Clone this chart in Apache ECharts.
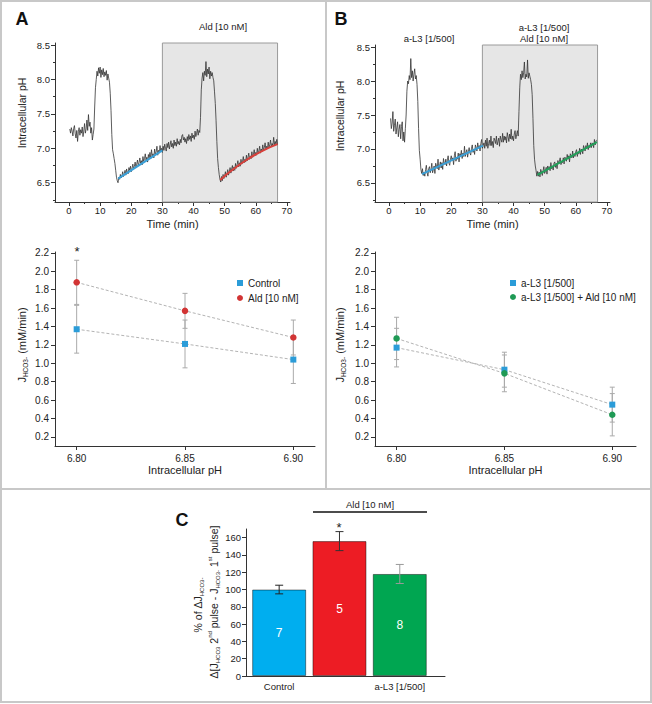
<!DOCTYPE html>
<html><head><meta charset="utf-8">
<script src="https://cdn.jsdelivr.net/npm/echarts@6/dist/echarts.min.js"></script>
<style>html,body{margin:0;padding:0;background:#fff}#main{width:652px;height:704px}</style>
</head><body><div id="main"></div>
<script>
// ---------- DATA ----------
const traceA = [[0.25,7.28],[0.5,7.22],[0.75,7.30],[1.0,7.25],[1.25,7.18],[1.5,7.29],[1.75,7.33],[2.0,7.21],[2.25,7.15],[2.5,7.26],[2.75,7.10],[3.0,7.24],[3.25,7.30],[3.5,7.19],[3.75,7.27],[4.0,7.22],[4.25,7.31],[4.5,7.17],[4.75,7.25],[5.0,7.36],[5.25,7.22],[5.5,7.28],[5.75,7.41],[6.0,7.26],[6.25,7.49],[6.5,7.32],[6.75,7.38],[7.0,7.22],[7.25,7.30],[7.5,7.12],[7.75,7.20],[8.0,7.28],[8.25,7.60],[8.5,7.88],[8.75,8.00],[9.0,8.12],[9.25,8.05],[9.5,8.17],[9.75,8.09],[10.0,8.18],[10.25,8.03],[10.5,8.14],[10.75,8.07],[11.0,8.16],[11.25,8.04],[11.5,8.11],[11.75,8.06],[12.0,8.13],[12.25,7.99],[12.5,8.08],[12.75,8.02],[13.0,7.96],[13.25,7.80],[13.5,7.55],[13.75,7.20],[14.0,6.98],[14.25,6.92],[14.5,6.85],[14.75,6.78],[15.0,6.68],[15.25,6.58],[15.5,6.53],[15.75,6.50],[16.0,6.58],[16.25,6.55],[16.5,6.62],[16.75,6.57],[17.0,6.60],[17.25,6.66],[17.5,6.59],[17.75,6.63],[18.0,6.68],[18.25,6.61],[18.5,6.70],[18.75,6.65],[19.0,6.63],[19.25,6.72],[19.5,6.68],[19.75,6.74],[20.0,6.66],[20.25,6.71],[20.5,6.77],[20.75,6.70],[21.0,6.74],[21.25,6.80],[21.5,6.72],[21.75,6.77],[22.0,6.83],[22.25,6.75],[22.5,6.79],[22.75,6.86],[23.0,6.78],[23.25,6.82],[23.5,6.76],[23.75,6.88],[24.0,6.81],[24.25,6.85],[24.5,6.92],[24.75,6.83],[25.0,6.87],[25.25,6.80],[25.5,6.91],[25.75,6.86],[26.0,6.94],[26.25,6.85],[26.5,6.98],[26.75,6.89],[27.0,6.92],[27.25,6.86],[27.5,6.99],[27.75,6.91],[28.0,6.95],[28.25,7.03],[28.5,6.90],[28.75,6.97],[29.0,6.93],[29.25,7.04],[29.5,6.95],[29.75,7.00],[30.0,6.94],[30.25,7.03],[30.5,6.97],[30.75,7.06],[31.0,7.00],[31.25,6.96],[31.5,7.07],[31.75,7.01],[32.0,7.09],[32.25,6.99],[32.5,7.05],[32.75,7.11],[33.0,7.02],[33.25,7.07],[33.5,7.00],[33.75,7.12],[34.0,7.04],[34.25,7.09],[34.5,7.03],[34.75,7.14],[35.0,7.06],[35.25,7.10],[35.5,7.05],[35.75,7.13],[36.0,7.08],[36.25,7.18],[36.5,7.20],[36.75,7.12],[37.0,7.16],[37.25,7.09],[37.5,7.14],[37.75,7.07],[38.0,7.17],[38.25,7.11],[38.5,7.20],[38.75,7.13],[39.0,7.18],[39.25,7.10],[39.5,7.22],[39.75,7.15],[40.0,7.19],[40.25,7.13],[40.5,7.25],[40.75,7.17],[41.0,7.22],[41.25,7.28],[41.5,7.19],[41.75,7.26],[42.0,7.23],[42.25,7.45],[42.5,7.85],[42.75,8.02],[43.0,8.10],[43.25,7.98],[43.5,8.12],[43.75,8.06],[44.0,8.26],[44.25,8.04],[44.5,8.15],[44.75,8.08],[45.0,8.18],[45.25,8.01],[45.5,8.12],[45.75,8.05],[46.0,8.10],[46.25,8.03],[46.5,7.98],[46.75,7.82],[47.0,7.65],[47.25,7.40],[47.5,7.10],[47.75,6.85],[48.0,6.72],[48.25,6.62],[48.5,6.55],[48.75,6.51],[49.0,6.59],[49.25,6.53],[49.5,6.62],[49.75,6.56],[50.0,6.60],[50.25,6.66],[50.5,6.58],[50.75,6.63],[51.0,6.69],[51.25,6.61],[51.5,6.66],[51.75,6.72],[52.0,6.64],[52.25,6.70],[52.5,6.75],[52.75,6.67],[53.0,6.73],[53.25,6.68],[53.5,6.78],[53.75,6.71],[54.0,6.76],[54.25,6.82],[54.5,6.73],[54.75,6.79],[55.0,6.74],[55.25,6.84],[55.5,6.77],[55.75,6.81],[56.0,6.88],[56.25,6.79],[56.5,6.84],[56.75,6.80],[57.0,6.90],[57.25,6.82],[57.5,6.87],[57.75,6.93],[58.0,6.84],[58.25,6.89],[58.5,6.85],[58.75,6.95],[59.0,6.87],[59.25,6.91],[59.5,6.98],[59.75,6.89],[60.0,6.94],[60.25,6.90],[60.5,7.00],[60.75,6.92],[61.0,6.96],[61.25,7.03],[61.5,6.93],[61.75,6.99],[62.0,6.95],[62.25,7.05],[62.5,6.97],[62.75,7.01],[63.0,7.08],[63.25,6.98],[63.5,7.03],[63.75,6.99],[64.0,7.09],[64.25,7.01],[64.5,7.05],[64.75,7.12],[65.0,7.02],[65.25,7.07],[65.5,7.04],[65.75,7.16],[66.0,7.05],[66.25,7.10],[66.5,7.06],[66.75,7.13],[67.0,7.05]];
const fitA1 = [[15.8,6.56],[30.0,6.97]];
const fitA2 = [[48.6,6.54],[52,6.67],[57,6.83],[62,6.96],[67,7.06]];

const traceB = [[0.5,7.45],[0.75,7.30],[1.0,7.38],[1.25,7.55],[1.5,7.26],[1.75,7.35],[2.0,7.44],[2.25,7.22],[2.5,7.31],[2.75,7.40],[3.0,7.18],[3.25,7.29],[3.5,7.36],[3.75,7.15],[4.0,7.33],[4.25,7.40],[4.5,7.12],[4.75,7.25],[5.0,7.10],[5.25,7.30],[5.5,7.50],[5.75,7.85],[6.0,8.00],[6.25,7.96],[6.5,8.08],[6.75,8.02],[7.0,8.33],[7.25,8.05],[7.5,8.15],[7.75,8.00],[8.0,8.10],[8.25,8.18],[8.5,8.03],[8.75,8.08],[9.0,7.95],[9.25,7.70],[9.5,7.30],[9.75,6.98],[10.0,6.85],[10.25,6.70],[10.5,6.64],[10.75,6.71],[11.0,6.61],[11.25,6.66],[11.5,6.60],[11.75,6.70],[12.0,6.76],[12.25,6.65],[12.5,6.60],[12.75,6.71],[13.0,6.74],[13.25,6.65],[13.5,6.70],[13.75,6.79],[14.0,6.65],[14.25,6.70],[14.5,6.75],[14.75,6.64],[15.0,6.79],[15.25,6.75],[15.5,6.71],[15.75,6.85],[16.0,6.69],[16.25,6.75],[16.5,6.81],[16.75,6.72],[17.0,6.80],[17.25,6.70],[17.5,6.86],[17.75,6.79],[18.0,6.77],[18.25,6.85],[18.5,6.75],[18.75,6.84],[19.0,6.90],[19.25,6.79],[19.5,6.76],[19.75,6.85],[20.0,6.90],[20.25,6.83],[20.5,6.87],[20.75,6.77],[21.0,6.90],[21.25,6.96],[21.5,6.82],[21.75,6.88],[22.0,6.85],[22.25,6.94],[22.5,6.81],[22.75,6.93],[23.0,6.90],[23.25,6.98],[23.5,6.86],[23.75,6.94],[24.0,6.89],[24.25,7.04],[24.5,6.89],[24.75,6.95],[25.0,6.99],[25.25,6.88],[25.5,6.96],[25.75,7.02],[26.0,6.94],[26.25,6.91],[26.5,7.01],[26.75,7.06],[27.0,6.95],[27.25,7.00],[27.5,6.92],[27.75,7.06],[28.0,7.02],[28.25,6.97],[28.5,7.09],[28.75,7.01],[29.0,7.05],[29.25,6.97],[29.5,7.08],[29.75,7.14],[30.0,7.01],[30.25,7.05],[30.5,7.09],[30.75,7.01],[31.0,7.13],[31.25,7.04],[31.5,7.16],[31.75,7.01],[32.0,7.08],[32.25,7.13],[32.5,7.05],[32.75,7.19],[33.0,7.05],[33.25,7.11],[33.5,7.02],[33.75,7.16],[34.0,7.13],[34.25,7.08],[34.5,7.19],[34.75,7.06],[35.0,7.11],[35.25,7.16],[35.5,7.04],[35.75,7.19],[36.0,7.14],[36.25,7.10],[36.5,7.23],[36.75,7.10],[37.0,7.19],[37.25,7.13],[37.5,7.18],[37.75,7.09],[38.0,7.24],[38.25,7.18],[38.5,7.11],[38.75,7.22],[39.0,7.15],[39.25,7.29],[39.5,7.14],[39.75,7.19],[40.0,7.12],[40.25,7.22],[40.5,7.27],[40.75,7.15],[41.0,7.21],[41.25,7.27],[41.5,7.19],[41.75,7.55],[42.0,7.90],[42.25,8.10],[42.5,8.02],[42.75,8.15],[43.0,8.05],[43.25,8.12],[43.5,8.28],[43.75,8.03],[44.0,8.10],[44.25,8.06],[44.5,8.31],[44.75,8.04],[45.0,8.12],[45.25,8.07],[45.5,8.02],[45.75,7.95],[46.0,7.80],[46.25,7.45],[46.5,7.05],[46.75,6.85],[47.0,6.75],[47.25,6.68],[47.5,6.60],[47.75,6.67],[48.0,6.60],[48.25,6.66],[48.5,6.59],[48.75,6.70],[49.0,6.66],[49.25,6.61],[49.5,6.68],[49.75,6.74],[50.0,6.64],[50.25,6.67],[50.5,6.73],[50.75,6.63],[51.0,6.75],[51.25,6.70],[51.5,6.74],[51.75,6.68],[52.0,6.80],[52.25,6.71],[52.5,6.75],[52.75,6.69],[53.0,6.79],[53.25,6.81],[53.5,6.73],[53.75,6.79],[54.0,6.71],[54.25,6.83],[54.5,6.78],[54.75,6.82],[55.0,6.87],[55.25,6.77],[55.5,6.81],[55.75,6.80],[56.0,6.87],[56.25,6.78],[56.5,6.88],[56.75,6.86],[57.0,6.82],[57.25,6.92],[57.5,6.85],[57.75,6.90],[58.0,6.81],[58.25,6.93],[58.5,6.90],[58.75,6.87],[59.0,6.97],[59.25,6.87],[59.5,6.93],[59.75,6.89],[60.0,6.96],[60.25,6.99],[60.5,6.89],[60.75,6.95],[61.0,6.93],[61.25,7.01],[61.5,6.92],[61.75,7.00],[62.0,6.98],[62.25,6.93],[62.5,7.05],[62.75,7.01],[63.0,6.97],[63.25,7.05],[63.5,7.00],[63.75,7.09],[64.0,6.99],[64.25,7.05],[64.5,7.02],[64.75,7.09],[65.0,7.02],[65.25,7.09],[65.5,7.07],[65.75,7.02],[66.0,7.14],[66.25,7.06],[66.5,7.12],[66.75,7.13]];
const fitB1 = [[10.6,6.63],[30.2,7.05]];
const fitB2 = [[47.7,6.62],[66.8,7.10]];

const aldPeriod = [30, 67];
const timeTicks = [0, 10, 20, 30, 40, 50, 60, 70];
const timeMinorTicks = [5, 15, 25, 35, 45, 55, 65];
const phTicks = [6.5, 7.0, 7.5, 8.0, 8.5];
const phMinorTicks = [6.25, 6.75, 7.25, 7.75, 8.25];

const phX = [6.80, 6.85, 6.90];
const controlJ = [1.37, 1.21, 1.04];
const controlErr = [0.26, 0.26, 0.26];
const aldJ = [1.88, 1.57, 1.28];
const aldErr = [0.24, 0.19, 0.19];
const al3J = [1.17, 0.93, 0.55];
const al3Err = [0.21, 0.19, 0.19];
const al3AldJ = [1.27, 0.89, 0.44];
const al3AldErr = [0.23, 0.20, 0.23];
const jTicks = [0.2, 0.4, 0.6, 0.8, 1.0, 1.2, 1.4, 1.6, 1.8, 2.0, 2.2];

const barLabels = ['Control', '', 'a-L3 [1/500]'];
const barValues = [100, 156, 118];
const barErr = [5, 11, 11];
const barN = ['7', '5', '8'];
const barTicks = [0, 20, 40, 60, 80, 100, 120, 140, 160];

// ---------- STYLE ----------
const FONT = "'Liberation Sans', Arial, sans-serif";
const TXT = '#222';
const AX = '#333';
const barColors = ['#00aeef', '#ed1c24', '#00a651'];
const barErrColors = ['#222', '#333', '#9a9a9a'];

function mainX(grid, min, max, ticks, fmt, margin, fs, name, gap) {
  return {gridIndex: grid, type: 'value', min, max,
    axisLine: {show: true, onZero: false, lineStyle: {color: AX, width: 1}},
    axisTick: {show: true, customValues: ticks, length: 4, lineStyle: {color: AX}},
    axisLabel: {show: true, customValues: ticks, formatter: fmt, margin, fontSize: fs, color: TXT, fontFamily: FONT},
    splitLine: {show: false},
    name, nameLocation: 'middle', nameGap: gap, nameMoveOverlap: false,
    nameTextStyle: {fontSize: 11, color: TXT, fontFamily: FONT}};
}
function mainY(grid, min, max, ticks, fmt, margin, fs) {
  return {gridIndex: grid, type: 'value', min, max, position: 'left',
    axisLine: {show: true, onZero: false, lineStyle: {color: AX, width: 1}},
    axisTick: {show: true, customValues: ticks, length: 4, lineStyle: {color: AX}},
    axisLabel: {show: true, customValues: ticks, formatter: fmt, margin, fontSize: fs, color: TXT, fontFamily: FONT},
    splitLine: {show: false}};
}
function minorAxis(grid, min, max, ticks, isY) {
  const a = {gridIndex: grid, type: 'value', min, max,
    axisLine: {show: false, onZero: false},
    axisTick: {show: true, customValues: ticks, length: 2, lineStyle: {color: AX}},
    axisLabel: {show: false}, splitLine: {show: false}};
  a.position = isY ? 'left' : 'bottom';
  return a;
}
function errRender(cap) {
  return function (params, api) {
    const x = api.value(0), lo = api.value(1), hi = api.value(2);
    const a = api.coord([x, lo]), b = api.coord([x, hi]);
    const st = {stroke: api.visual('color'), lineWidth: 1, fill: null};
    return {type: 'group', children: [
      {type: 'line', shape: {x1: a[0], y1: a[1], x2: b[0], y2: b[1]}, style: st},
      {type: 'line', shape: {x1: a[0] - cap, y1: a[1], x2: a[0] + cap, y2: a[1]}, style: st},
      {type: 'line', shape: {x1: b[0] - cap, y1: b[1], x2: b[0] + cap, y2: b[1]}, style: st}
    ]};
  };
}
function errData(xs, ys, es) { return xs.map((x, i) => [x, ys[i] - es[i], ys[i] + es[i]]); }
function pairs(xs, ys) { return xs.map((x, i) => [x, ys[i]]); }

const f1 = v => Number(v).toFixed(1);
const f2 = v => Number(v).toFixed(2);
const f0 = v => String(Math.round(v));

const chart = echarts.init(document.getElementById('main'), null, {renderer: 'svg', width: 652, height: 704});

const shade = {silent: true, itemStyle: {color: '#e6e6e6', borderColor: '#9a9a9a', borderWidth: 1},
  data: [[{xAxis: aldPeriod[0]}, {xAxis: aldPeriod[1]}]]};

function traceSeries(data, xi, yi, withShade) {
  const s = {type: 'line', xAxisIndex: xi, yAxisIndex: yi, data, showSymbol: false, symbol: 'none',
    lineStyle: {color: '#333', width: 0.8}, silent: true, z: 3};
  if (withShade) s.markArea = shade;
  return s;
}
function fitSeries(data, xi, yi, color, smooth) {
  return {type: 'line', xAxisIndex: xi, yAxisIndex: yi, data, showSymbol: false, symbol: 'none', smooth: !!smooth,
    lineStyle: {color, width: 2}, silent: true, z: 4};
}
function jSeries(name, xs, ys, xi, yi, color, symbol) {
  return {type: 'line', name, xAxisIndex: xi, yAxisIndex: yi, data: pairs(xs, ys), color,
    symbol, symbolSize: symbol === 'circle' ? 6.5 : 6, showSymbol: true,
    itemStyle: {color}, lineStyle: {color: '#a0a0a0', width: 0.8, type: [3, 2]}, z: 5};
}
function jErr(xs, ys, es, xi, yi) {
  return {type: 'custom', xAxisIndex: xi, yAxisIndex: yi, data: errData(xs, ys, es),
    renderItem: errRender(2.5), itemStyle: {color: '#aaaaaa'}, encode: {x: 0, y: [1, 2]}, z: 2, silent: true};
}

const rotText = (x, y, text, rich, fs) => ({type: 'text', x, y, rotation: Math.PI / 2,
  style: {text, rich, fontSize: fs || 11, fontFamily: FONT, fill: TXT, align: 'center', verticalAlign: 'middle',
    textAlign: 'center', textVerticalAlign: 'middle'}});
const txt = (x, y, text, fs, extra) => ({type: 'text', x, y,
  style: Object.assign({text, fontSize: fs, fontFamily: FONT, fill: TXT, align: 'center', verticalAlign: 'middle',
    textAlign: 'center', textVerticalAlign: 'middle'}, extra || {})});

const jRich = {
  j: {fontSize: 11, fontFamily: FONT, lineHeight: 14},
  s: {fontSize: 6.5, fontFamily: FONT, verticalAlign: 'bottom', lineHeight: 8},
  p: {fontSize: 6, fontFamily: FONT, verticalAlign: 'top', lineHeight: 8},
  m: {fontSize: 10.5, fontFamily: FONT, lineHeight: 14},
  s2: {fontSize: 6, fontFamily: FONT, verticalAlign: 'bottom', lineHeight: 8}
};

const option = {
  animation: false,
  backgroundColor: '#fff',
  grid: [
    {left: 55, top: 43, width: 235, height: 159, containLabel: false, outerBoundsMode: 'none'},
    {left: 375, top: 45, width: 235, height: 157, containLabel: false, outerBoundsMode: 'none'},
    {left: 55, top: 252, width: 260, height: 194, containLabel: false, outerBoundsMode: 'none'},
    {left: 375, top: 252, width: 261, height: 194, containLabel: false, outerBoundsMode: 'none'},
    {left: 246, top: 529, width: 199, height: 147, containLabel: false, outerBoundsMode: 'none'}
  ],
  xAxis: [
    mainX(0, -4.5, 71, timeTicks, f0, 3, 9.5, 'Time (min)', 16),
    minorAxis(0, -4.5, 71, timeMinorTicks, false),
    mainX(1, -4.5, 71, timeTicks, f0, 3, 9.5, 'Time (min)', 16),
    minorAxis(1, -4.5, 71, timeMinorTicks, false),
    mainX(2, 6.79, 6.91, phX, f2, 7, 10, 'Intracellular pH', 18),
    mainX(3, 6.79, 6.911, phX, f2, 7, 10, 'Intracellular pH', 18),
    Object.assign(mainX(4, 0.45, 3.75, barLabels.map((n, i) => n ? i + 1 : null).filter(v => v !== null),
      v => barLabels[Math.round(v) - 1], 5, 9.5, '', 0), {axisTick: {show: false}})
  ],
  yAxis: [
    mainY(0, 6.22, 8.53, phTicks, f1, 5, 9.5),
    minorAxis(0, 6.22, 8.53, phMinorTicks, true),
    mainY(1, 6.22, 8.53, phTicks, f1, 5, 9.5),
    minorAxis(1, 6.22, 8.53, phMinorTicks, true),
    mainY(2, 0.1, 2.21, jTicks, f1, 6, 10),
    mainY(3, 0.1, 2.21, jTicks, f1, 6, 10),
    mainY(4, 0, 170, barTicks, f0, 5, 9.5)
  ],
  legend: [
    {left: 237, top: 278, orient: 'vertical', padding: 0, itemGap: 5, itemWidth: 6, itemHeight: 6,
      data: [{name: 'Control', icon: 'rect'}, {name: 'Ald [10 nM]', icon: 'circle'}],
      textStyle: {fontSize: 10, color: TXT, fontFamily: FONT}},
    {left: 510, top: 278, orient: 'vertical', padding: 0, itemGap: 4, itemWidth: 6, itemHeight: 6,
      data: [{name: 'a-L3 [1/500]', icon: 'rect'}, {name: 'a-L3 [1/500] + Ald [10 nM]', icon: 'circle'}],
      textStyle: {fontSize: 10, color: TXT, fontFamily: FONT}}
  ],
  series: [
    traceSeries(traceA, 0, 0, true),
    fitSeries(fitA1, 0, 0, '#3a9fd6'),
    fitSeries(fitA2, 0, 0, '#d8413c', true),
    traceSeries(traceB, 2, 2, true),
    fitSeries(fitB1, 2, 2, '#3a9fd6'),
    fitSeries(fitB2, 2, 2, '#22a05a'),

    jErr(phX, controlJ, controlErr, 4, 4),
    jErr(phX, aldJ, aldErr, 4, 4),
    jSeries('Control', phX, controlJ, 4, 4, '#2b9cd8', 'rect'),
    jSeries('Ald [10 nM]', phX, aldJ, 4, 4, '#d23434', 'circle'),

    jErr(phX, al3J, al3Err, 5, 5),
    jErr(phX, al3AldJ, al3AldErr, 5, 5),
    jSeries('a-L3 [1/500]', phX, al3J, 5, 5, '#2b9cd8', 'rect'),
    jSeries('a-L3 [1/500] + Ald [10 nM]', phX, al3AldJ, 5, 5, '#1f9a55', 'circle'),

    {type: 'bar', xAxisIndex: 6, yAxisIndex: 6, barWidth: 54,
      data: barValues.map((v, i) => ({value: [i + 1, v], itemStyle: {color: barColors[i]}})),
      itemStyle: {borderColor: 'rgba(0,0,0,0.45)', borderWidth: 1},
      label: {show: true, position: 'inside', formatter: p => barN[p.dataIndex], color: '#fff', fontSize: 12, fontFamily: FONT},
      z: 2},
    {type: 'custom', xAxisIndex: 6, yAxisIndex: 6,
      data: barValues.map((v, i) => ({value: [i + 1, v - barErr[i], v + barErr[i]], itemStyle: {color: barErrColors[i]}})),
      renderItem: errRender(4), encode: {x: 0, y: [1, 2]}, z: 5, silent: true}
  ],
  graphic: [
    {type: 'rect', shape: {x: 1, y: 1, width: 650, height: 701}, style: {fill: 'none', stroke: '#c8c8c8', lineWidth: 2}, silent: true},
    {type: 'line', shape: {x1: 326, y1: 0, x2: 326, y2: 489}, style: {stroke: '#c8c8c8', lineWidth: 2}, silent: true},
    {type: 'line', shape: {x1: 0, y1: 489, x2: 652, y2: 489}, style: {stroke: '#c8c8c8', lineWidth: 2}, silent: true},
    txt(22, 19, 'A', 18, {fontWeight: 'bold', fill: '#111'}),
    txt(341, 19, 'B', 18, {fontWeight: 'bold', fill: '#111'}),
    txt(182, 520, 'C', 18, {fontWeight: 'bold', fill: '#111'}),
    txt(223, 26, 'Ald [10 nM]', 9.5),
    txt(429, 38, 'a-L3 [1/500]', 9.5),
    txt(544, 27, 'a-L3 [1/500]', 9.5),
    txt(544, 38, 'Ald [10 nM]', 9.5),
    rotText(22, 113, 'Intracellular pH', null, 10.5),
    rotText(340, 116, 'Intracellular pH', null, 10.5),
    rotText(22, 345, '{j|J}{s|HCO3-}{j| (mM/min)}', jRich, 11),
    rotText(340, 345, '{j|J}{s|HCO3-}{j| (mM/min)}', jRich, 11),
    txt(77, 251, '*', 13),
    txt(339, 527, '*', 13),
    txt(370, 504, 'Ald [10 nM]', 9.5),
    {type: 'line', shape: {x1: 313, y1: 512, x2: 427, y2: 512}, style: {stroke: '#111', lineWidth: 1.5}, silent: true},
    rotText(198, 605, '{m|% of Δ}{m|J}{s2|HCO3-}', jRich, 10.5),
    rotText(214, 602, '{m|Δ[J}{s2|HCO3}{m| 2}{p|nd}{m| pulse - J}{s2|HCO3-}{m| 1}{p|st}{m| pulse]}', jRich, 10.5)
  ]
};
chart.setOption(option);
</script></body></html>
